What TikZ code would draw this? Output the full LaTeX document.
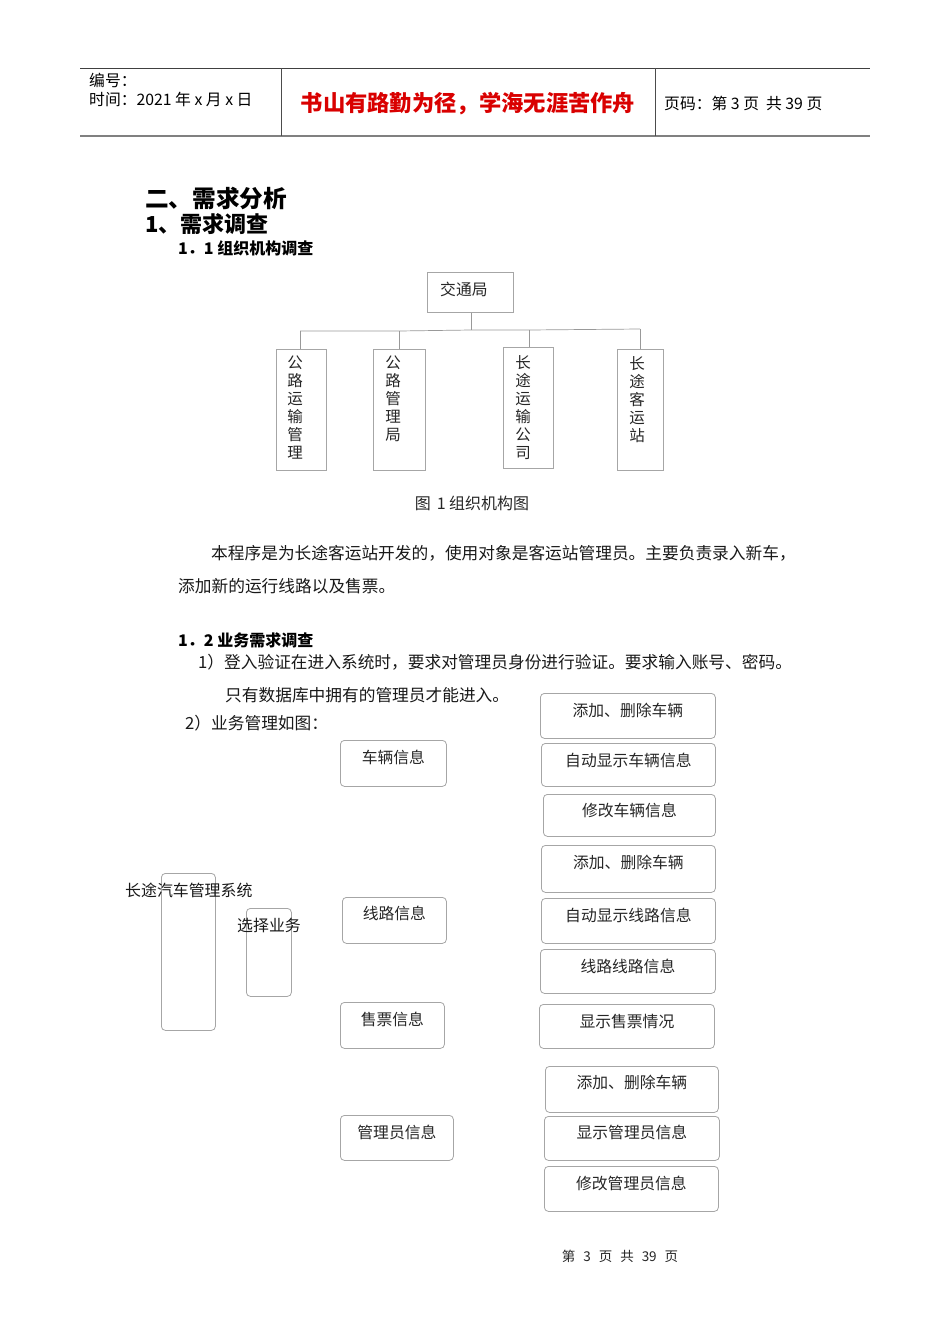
\documentclass[tikz,border=0pt]{standalone}
\usepackage{fontspec}
\setmainfont{Noto Sans CJK SC}
\usetikzlibrary{calc}
\tikzset{
  rbox/.style={draw=black!35, line width=0.8pt, rounded corners=4pt, inner sep=0pt, fill=none},
  obox/.style={draw=black!35, line width=0.8pt, inner sep=0pt},
  btxt/.style={inner sep=0pt, font=\fontsize{15.8}{18}\selectfont, text=black!85},
  ptxt/.style={inner sep=0pt, anchor=west, font=\fontsize{16.7}{19}\selectfont, text=black!90},
  htxt/.style={inner sep=0pt, anchor=west, font=\fontsize{15.8}{18}\selectfont},
  vtxt/.style={inner sep=0pt, anchor=north, align=center, font=\fontsize{15.5}{18}\selectfont, text=black!85},
  orgline/.style={draw=black!40, line width=0.7pt},
}
\newcommand\rbx[7]{%
  \node[rbox,minimum width=#4pt,minimum height=#5pt,anchor=north west] (#1) at (#2,#3) {};
  \node[btxt] (#1t) at ([yshift=-#7pt]#1.north) {#6};}
\begin{document}
\begin{tikzpicture}[x=1pt,y=-1pt]
\useasboundingbox[fill=white] (0,0) rectangle (950,1344);
% ---------- header ----------
\coordinate (hTL) at (80,68);
\coordinate (hTR) at (870,68);
\coordinate (hBL) at (80,136);
\coordinate (hBR) at (870,136);
\coordinate (v1t) at (281,68); \coordinate (v1b) at (281,136);
\coordinate (v2t) at (655,68); \coordinate (v2b) at (655,136);
\draw[black!75, line width=0.8pt] (hTL) -- (hTR);
\draw[black!50, line width=1.6pt] (hBL) -- (hBR);
\draw[black!70, line width=0.8pt] (v1t) -- (v1b);
\draw[black!70, line width=0.8pt] (v2t) -- (v2b);
\node[htxt] (bh) at (89,80) {编号：};
\node[htxt] (sj) at (89,99) {时间：2021 年 x 月 x 日};
\node[inner sep=0pt, text=red!85!black, font=\fontsize{22.3}{25}\selectfont\bfseries] (motto) at (468,104) {书山有路勤为径，学海无涯苦作舟};
\node[htxt] (ym) at (664,103) {页码：第 3 页\ \ 共 39 页};
% ---------- headings ----------
\node[inner sep=0pt, anchor=west, font=\fontsize{23.6}{27}\selectfont\bfseries] (h1) at (145,198) {二、需求分析};
\node[inner sep=0pt, anchor=west, font=\fontsize{22}{26}\selectfont\bfseries] (h2) at (145,224) {1、需求调查};
\node[inner sep=0pt, anchor=west, font=\fontsize{16}{18}\selectfont\bfseries] (h3) at (178,248) {1．1 组织机构调查};
% ---------- org chart ----------
\node[obox, minimum width=86pt, minimum height=40pt, anchor=north west] (jtj) at (427,272) {};
\node[btxt, anchor=west] (jtjt) at (440,289) {交通局};
\node[obox, minimum width=50pt, minimum height=121pt, anchor=north west] (o1) at (276,349) {};
\node[obox, minimum width=52pt, minimum height=121pt, anchor=north west] (o2) at (373,349) {};
\node[obox, minimum width=50pt, minimum height=121pt, anchor=north west] (o3) at (503,347) {};
\node[obox, minimum width=46pt, minimum height=121pt, anchor=north west] (o4) at (617,349) {};
\node[vtxt] (o1t) at (295,356) {公\\路\\运\\输\\管\\理};
\node[vtxt] (o2t) at (393,356) {公\\路\\管\\理\\局};
\node[vtxt] (o3t) at (523,355) {长\\途\\运\\输\\公\\司};
\node[vtxt] (o4t) at (637,356) {长\\途\\客\\运\\站};
\coordinate (jm) at (471,330);
\coordinate (j1) at (300,331);
\coordinate (j2) at (399,331);
\coordinate (j3) at (529,330);
\coordinate (j4) at (640,329);
\draw[orgline] (jtj.south -| jm) -- (jm);
\draw[orgline] (j1) -- (j2) -- (jm) -- (j3) -- (j4);
\draw[orgline] (j1) -- (j1 |- o1.north);
\draw[orgline] (j2) -- (j2 |- o2.north);
\draw[orgline] (j3) -- (j3 |- o3.north);
\draw[orgline] (j4) -- (j4 |- o4.north);
\node[inner sep=0pt, font=\fontsize{16}{18}\selectfont, text=black!85] (cap) at (472,503) {图\hspace{6pt}1 组织机构图};
% ---------- paragraph ----------
\node[ptxt] (p1) at (211,553) {本程序是为长途客运站开发的，使用对象是客运站管理员。主要负责录入新车，};
\node[ptxt] (p2) at (178,586) {添加新的运行线路以及售票。};
\node[inner sep=0pt, anchor=west, font=\fontsize{16}{18}\selectfont\bfseries] (h4) at (178,640) {1．2 业务需求调查};
\node[ptxt] (p3) at (198,662) {1）登入验证在进入系统时，要求对管理员身份进行验证。要求输入账号、密码。};
\node[ptxt] (p4) at (225,695) {只有数据库中拥有的管理员才能进入。};
\node[ptxt] (p5) at (185,723) {2）业务管理如图：};
% ---------- business diagram ----------
\node[rbox, minimum width=54pt, minimum height=157pt, anchor=north west] (sys) at (161,873) {};
\node[ptxt, font=\fontsize{15.9}{18}\selectfont] (syst) at (125,890) {长途汽车管理系统};
\node[rbox, minimum width=45pt, minimum height=88pt, anchor=north west] (sel) at (246,908) {};
\node[ptxt, font=\fontsize{15.9}{18}\selectfont] (selt) at (237,925) {选择业务};
\rbx{c1}{340}{740}{106}{46}{车辆信息}{17}
\rbx{c2}{342}{897}{104}{46}{线路信息}{16}
\rbx{c3}{340}{1002}{104}{46}{售票信息}{17}
\rbx{c4}{340}{1115}{113}{45}{管理员信息}{17}
\rbx{r1}{540}{693}{175}{45}{添加、删除车辆}{17}
\rbx{r2}{541}{743}{174}{43}{自动显示车辆信息}{17}
\rbx{r3}{543}{794}{172}{42}{修改车辆信息}{16}
\rbx{r4}{541}{845}{174}{47}{添加、删除车辆}{17}
\rbx{r5}{541}{898}{174}{45}{自动显示线路信息}{17}
\rbx{r6}{540}{949}{175}{44}{线路线路信息}{17}
\rbx{r7}{539}{1004}{175}{44}{显示售票情况}{17}
\rbx{r8}{545}{1066}{173}{46}{添加、删除车辆}{16}
\rbx{r9}{544}{1116}{175}{44}{显示管理员信息}{16}
\rbx{r10}{544}{1166}{174}{45}{修改管理员信息}{17}
% ---------- footer ----------
\node[inner sep=0pt, font=\fontsize{13.5}{15}\selectfont, text=black!85] (ft) at (620,1256) {第\hspace{8pt}3\hspace{8pt}页\hspace{8pt}共\hspace{8pt}39\hspace{8pt}页};
\end{tikzpicture}
\end{document}
